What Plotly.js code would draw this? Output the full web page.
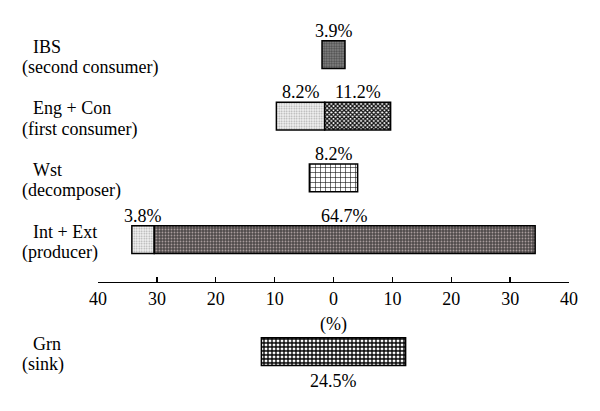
<!DOCTYPE html>
<html>
<head>
<meta charset="utf-8">
<script src="https://cdn.plot.ly/plotly-3.0.1.min.js"></script>
<style>
  html, body { margin: 0; padding: 0; background: #ffffff; }
  #chart { width: 600px; height: 411px; }
</style>
</head>
<body>
<div id="chart"></div>
<script>
// ---- data ----
const levels = ['IBS', 'Eng + Con', 'Wst', 'Int + Ext'];
const roles = ['(second consumer)', '(first consumer)', '(decomposer)', '(producer)'];
const leftShare = [null, 8.2, null, 3.8];
const rightShare = [3.9, 11.2, 8.2, 64.7];
const sinkLevel = ['Grn'];
const sinkRole = ['(sink)'];
const sinkShare = [24.5];
const tickVals = [-40, -30, -20, -10, 0, 10, 20, 30, 40];
const tickText = ['40', '30', '20', '10', '0', '10', '20', '30', '40'];
const axisTitle = '(%)';

// ---- derived: bars are centred on zero ----
const totals = levels.map((_, i) => (leftShare[i] || 0) + rightShare[i]);
const leftBase = totals.map(t => -t / 2);
const rightBase = leftBase.map((b, i) => b + (leftShare[i] || 0));
const sinkBase = sinkShare.map(v => -v / 2);

const FONT = 'Liberation Serif';
const outline = { color: '#000000', width: 1.5 };
const barW = 0.45;

const leftTrace = {
  type: 'bar', orientation: 'h', y: levels, x: leftShare, base: leftBase,
  width: barW, hoverinfo: 'none', showlegend: false,
  marker: {
    color: '#ffffff', line: outline,
    pattern: { shape: '.', bgcolor: '#f4f4f4', fgcolor: '#a8a8a8', size: 2.5, solidity: 0.35, fillmode: 'replace' }
  }
};
const rightTrace = {
  type: 'bar', orientation: 'h', y: levels, x: rightShare, base: rightBase,
  width: barW, hoverinfo: 'none', showlegend: false,
  marker: {
    color: '#ffffff', line: outline,
    pattern: {
      shape: ['.', 'x', '+', '.'],
      bgcolor: ['#8c8c8c', '#ffffff', '#ffffff', '#4f4a4a'],
      fgcolor: ['#4a4a4a', '#111111', '#111111', '#a89c9c'],
      size: [2.5, 3, 5, 3],
      solidity: [0.5, 0.68, 0.22, 0.3],
      fillmode: 'replace'
    }
  }
};
const sinkTrace = {
  type: 'bar', orientation: 'h', y: sinkLevel, x: sinkShare, base: sinkBase,
  width: barW, hoverinfo: 'none', showlegend: false, xaxis: 'x', yaxis: 'y2',
  marker: {
    color: '#ffffff', line: outline,
    pattern: { shape: '+', bgcolor: '#ffffff', fgcolor: '#000000', size: 4, solidity: 0.55, fillmode: 'replace' }
  }
};

// ---- annotations ----
const annotations = [];
const L1X = (31 - 98) / 471, L2X = (20 - 98) / 471;
function catLabel(name, role, yref) {
  annotations.push({ xref: 'paper', yref: yref, x: L1X, y: name, xanchor: 'left', yanchor: 'middle',
    yshift: 8, text: name, showarrow: false, font: { family: FONT, size: 18, color: '#000' } });
  annotations.push({ xref: 'paper', yref: yref, x: L2X, y: name, xanchor: 'left', yanchor: 'middle',
    yshift: -13, text: role, showarrow: false, font: { family: FONT, size: 18, color: '#000' } });
}
levels.forEach((n, i) => catLabel(n, roles[i], 'y'));
sinkLevel.forEach((n, i) => catLabel(n, sinkRole[i], 'y2'));

function pct(v, x, y, yref, shift) {
  annotations.push({ xref: 'x', yref: yref, x: x, y: y, xanchor: 'center', yanchor: 'middle',
    yshift: shift, text: v.toFixed(1) + '%', showarrow: false, font: { family: FONT, size: 18, color: '#000' } });
}
levels.forEach((n, i) => {
  if (leftShare[i] != null) pct(leftShare[i], leftBase[i] + leftShare[i] / 2, n, 'y', 24);
  pct(rightShare[i], rightBase[i] + rightShare[i] / 2, n, 'y', 24);
});
sinkLevel.forEach((n, i) => pct(sinkShare[i], sinkBase[i] + sinkShare[i] / 2, n, 'y2', -29));

const layout = {
  width: 600, height: 411,
  margin: { l: 98, r: 31, t: 0, b: 0, pad: 0 },
  paper_bgcolor: '#ffffff', plot_bgcolor: 'rgba(0,0,0,0)',
  font: { family: FONT, color: '#000' },
  barmode: 'overlay',
  xaxis: {
    range: [-40, 40], tickvals: tickVals, ticktext: tickText,
    showline: true, linecolor: '#000', linewidth: 1.3,
    ticks: 'inside', ticklen: 5, tickwidth: 1.3, tickcolor: '#000',
    showgrid: false, zeroline: false, anchor: 'y', fixedrange: true,
    tickfont: { family: FONT, size: 18, color: '#000' },
    title: { text: axisTitle, font: { family: FONT, size: 18, color: '#000' }, standoff: 9 },
    automargin: false
  },
  yaxis: {
    domain: [0.3146, 1], type: 'category', categoryorder: 'array',
    categoryarray: levels.slice().reverse(), range: [-0.684, 3.884],
    showticklabels: false, showgrid: false, zeroline: false, showline: false, ticks: '', fixedrange: true
  },
  yaxis2: {
    domain: [0.0693, 0.2192], type: 'category', range: [-0.5, 0.5],
    showticklabels: false, showgrid: false, zeroline: false, showline: false, ticks: '', fixedrange: true
  },
  annotations: annotations
};

Plotly.newPlot('chart', [leftTrace, rightTrace, sinkTrace], layout, { displayModeBar: false, staticPlot: true });
</script>
</body>
</html>
